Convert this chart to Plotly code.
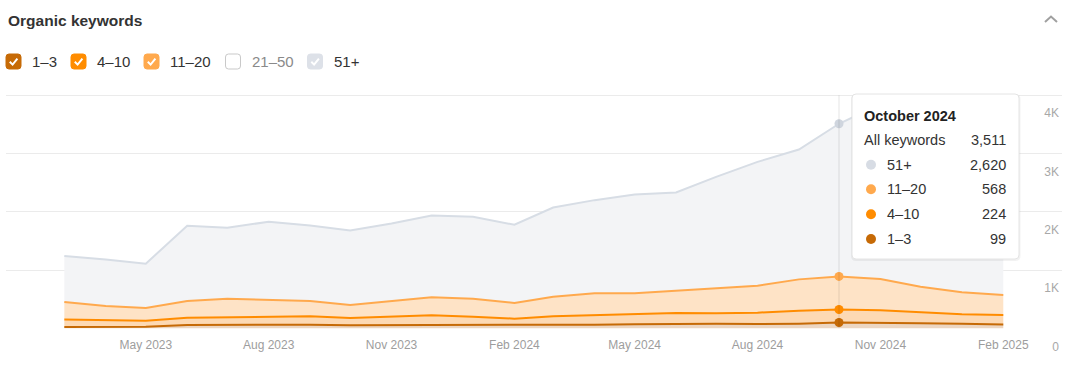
import plotly.graph_objects as go

# ---------------- data ----------------
months = [
    "2023-03-01", "2023-04-01", "2023-05-01", "2023-06-01", "2023-07-01", "2023-08-01",
    "2023-09-01", "2023-10-01", "2023-11-01", "2023-12-01", "2024-01-01", "2024-02-01",
    "2024-03-01", "2024-04-01", "2024-05-01", "2024-06-01", "2024-07-01", "2024-08-01",
    "2024-09-01", "2024-10-01", "2024-11-01", "2024-12-01", "2025-01-01", "2025-02-01",
]
kw_1_3 = [22, 27, 27, 57, 63, 68, 63, 52, 52, 58, 52, 52,
          58, 63, 68, 80, 80, 75, 80, 99, 96, 86, 76, 66]
kw_4_10 = [127, 110, 104, 126, 131, 138, 143, 125, 142, 165, 148, 114,
           148, 160, 166, 183, 177, 194, 223, 224, 213, 194, 164, 163]
kw_11_20 = [302, 246, 218, 286, 315, 280, 263, 223, 275, 308, 309, 268,
            337, 377, 366, 377, 423, 462, 537, 568, 537, 434, 377, 342]
kw_51_plus = [789, 800, 760, 1291, 1217, 1343, 1297, 1280, 1331, 1406, 1405, 1343,
              1531, 1600, 1697, 1691, 1920, 2126, 2229, 2620, 3004, 3036, 3083, 3079]

legend_labels = ["1–3", "4–10", "11–20", "21–50", "51+"]
x_tick_dates = ["2023-05-01", "2023-08-01", "2023-11-01", "2024-02-01",
                "2024-05-01", "2024-08-01", "2024-11-01", "2025-02-01"]
x_tick_labels = ["May 2023", "Aug 2023", "Nov 2023", "Feb 2024",
                 "May 2024", "Aug 2024", "Nov 2024", "Feb 2025"]
y_tick_vals = [0, 1000, 2000, 3000, 4000]
y_tick_text = ["0", "1K", "2K", "3K", "4K"]
title_text = "Organic keywords"
hover_month_label = "October 2024"
hover_index = 19

# ---------------- styles ----------------
FONT = "Liberation Sans, Arial, Helvetica, sans-serif"
C13, C410, C1120, C2150, C51 = "#c66a06", "#ff8c00", "#ffa94d", "#ffffff", "#d7dde5"
F13, F410, F1120, F51 = "#ecd6c2", "#fdd9b3", "#fee3c6", "#f3f4f6"

W, H = 1075, 367
ML, MR, MT, MB = 6, 13, 94, 38
PW, PH = W - ML - MR, H - MT - MB


def px(x):
    return (x - ML) / PW


def py(y):
    return (H - MB - y) / PH


fig = go.Figure()

series = [
    ("1–3", kw_1_3, C13, F13),
    ("4–10", kw_4_10, C410, F410),
    ("11–20", kw_11_20, C1120, F1120),
    ("51+", kw_51_plus, C51, F51),
]
for name, vals, lc, fc in series:
    fig.add_trace(go.Scatter(
        x=months, y=vals, name=name, mode="lines", stackgroup="one",
        line=dict(color=lc, width=2), fillcolor=fc, hoverinfo="skip",
    ))

# hover markers at October 2024 (cumulative stack heights)
cum = 0
marker_cols = [C13, C410, C1120, "#cfd5de"]
for (name, vals, lc, fc), mc in zip(series, marker_cols):
    cum += vals[hover_index]
    fig.add_trace(go.Scatter(
        x=[months[hover_index]], y=[cum], mode="markers",
        marker=dict(size=9, color=mc), hoverinfo="skip", showlegend=False,
    ))

shapes = []
annotations = []

# vertical hover line
shapes.append(dict(type="line", xref="x", yref="y", x0=months[hover_index], x1=months[hover_index],
                   y0=0, y1=4000, line=dict(color="rgba(0,0,0,0.10)", width=1), layer="above"))


def rrect_path(x0, y0, x1, y1, r):
    return (f"M {px(x0 + r)},{py(y0)} L {px(x1 - r)},{py(y0)} "
            f"Q {px(x1)},{py(y0)} {px(x1)},{py(y0 + r)} L {px(x1)},{py(y1 - r)} "
            f"Q {px(x1)},{py(y1)} {px(x1 - r)},{py(y1)} L {px(x0 + r)},{py(y1)} "
            f"Q {px(x0)},{py(y1)} {px(x0)},{py(y1 - r)} L {px(x0)},{py(y0 + r)} "
            f"Q {px(x0)},{py(y0)} {px(x0 + r)},{py(y0)} Z")


# title
annotations.append(dict(text=f"<b>{title_text}</b>", xref="paper", yref="paper",
                        x=px(6), y=py(20.5), xanchor="left", yanchor="middle", showarrow=False,
                        font=dict(family=FONT, size=15.5, color="#333333")))

# collapse chevron
shapes.append(dict(type="path", xref="paper", yref="paper",
                   path=f"M {px(1045)},{py(22)} L {px(1051)},{py(16.5)} L {px(1057)},{py(22)}",
                   line=dict(color="#a0a0a0", width=2)))

# legend checkboxes
box_x = [6, 71, 144, 225.5, 307.5]
box_fill = [C13, C410, C1120, "#ffffff", "#dde1e8"]
checked = [True, True, True, False, True]
text_cols = ["#333333", "#333333", "#333333", "#8a8a8a", "#333333"]
by0, by1 = 54, 69
for lbl, bx, bf, chk, tc in zip(legend_labels, box_x, box_fill, checked, text_cols):
    shapes.append(dict(type="path", xref="paper", yref="paper",
                       path=rrect_path(bx, by0, bx + 15, by1, 3), fillcolor=bf,
                       line=dict(color=("#c9c9c9" if not chk else bf), width=1)))
    if chk:
        shapes.append(dict(type="path", xref="paper", yref="paper",
                           path=f"M {px(bx + 3.8)},{py(61.8)} L {px(bx + 6.6)},{py(64.6)} L {px(bx + 11.4)},{py(58.6)}",
                           line=dict(color="#ffffff", width=2)))
    annotations.append(dict(text=lbl, xref="paper", yref="paper", x=px(bx + 24), y=py(61.5),
                            xanchor="left", yanchor="middle", showarrow=False,
                            font=dict(family=FONT, size=15, color=tc)))

# tooltip box
tx0, ty0, tx1, ty1 = 852, 94, 1019, 259
shapes.append(dict(type="path", xref="paper", yref="paper", layer="above",
                   path=rrect_path(tx0 - 1, ty0, tx1 + 1.5, ty1 + 2, 5),
                   fillcolor="rgba(0,0,0,0.05)", line=dict(width=0)))
shapes.append(dict(type="path", xref="paper", yref="paper", layer="above",
                   path=rrect_path(tx0, ty0, tx1, ty1, 4),
                   fillcolor="#ffffff", line=dict(color="#e4e4e4", width=1)))

total = kw_1_3[hover_index] + kw_4_10[hover_index] + kw_11_20[hover_index] + kw_51_plus[hover_index]
annotations.append(dict(text=f"<b>{hover_month_label}</b>", xref="paper", yref="paper",
                        x=px(862), y=py(115.7), xanchor="left", yanchor="middle", showarrow=False,
                        font=dict(family=FONT, size=14.5, color="#222222")))
annotations.append(dict(text="All keywords", xref="paper", yref="paper",
                        x=px(862), y=py(140), xanchor="left", yanchor="middle", showarrow=False,
                        font=dict(family=FONT, size=14.5, color="#333333")))
annotations.append(dict(text=f"{total:,}", xref="paper", yref="paper",
                        x=px(1008), y=py(140), xanchor="right", yanchor="middle", showarrow=False,
                        font=dict(family=FONT, size=14.5, color="#333333")))
rows = [("51+", kw_51_plus, "#d7dce4"), ("11–20", kw_11_20, C1120),
        ("4–10", kw_4_10, C410), ("1–3", kw_1_3, C13)]
row_y = [164.7, 189.3, 214.3, 239]
for (lbl, vals, col), ry in zip(rows, row_y):
    shapes.append(dict(type="circle", xref="paper", yref="paper", layer="above",
                       x0=px(866), x1=px(876), y0=py(ry - 5), y1=py(ry + 5),
                       fillcolor=col, line=dict(width=0)))
    annotations.append(dict(text=lbl, xref="paper", yref="paper", x=px(885), y=py(ry),
                            xanchor="left", yanchor="middle", showarrow=False,
                            font=dict(family=FONT, size=14.5, color="#333333")))
    annotations.append(dict(text=f"{vals[hover_index]:,}", xref="paper", yref="paper",
                            x=px(1008), y=py(ry), xanchor="right", yanchor="middle", showarrow=False,
                            font=dict(family=FONT, size=14.5, color="#333333")))

fig.update_layout(
    width=W, height=H,
    margin=dict(l=ML, r=MR, t=MT, b=MB, pad=0),
    paper_bgcolor="#ffffff", plot_bgcolor="#ffffff",
    showlegend=False, hovermode=False,
    font=dict(family=FONT),
    shapes=shapes, annotations=annotations,
    xaxis=dict(
        type="date", range=["2023-01-16 08:00", "2025-03-16 23:00"],
        tickvals=x_tick_dates, ticktext=x_tick_labels,
        showgrid=False, zeroline=False, showline=False, ticks="",
        tickfont=dict(family=FONT, size=12, color="#9d9d9d"),
        ticklabelstandoff=7,
    ),
    yaxis=dict(
        side="right", range=[-12, 4022],
        tickvals=y_tick_vals, ticktext=y_tick_text,
        showgrid=True, gridcolor="#ebebeb", gridwidth=1,
        zeroline=False, showline=False, ticks="",
        ticklabelposition="inside", ticklabelshift=18, ticklabeloverflow="allow",
        tickfont=dict(family=FONT, size=12, color="#a8a8a8"),
    ),
)

fig.write_html("out.html", config={"displayModeBar": False},
               post_script="document.body.style.margin='0';document.body.style.overflow='hidden';")
